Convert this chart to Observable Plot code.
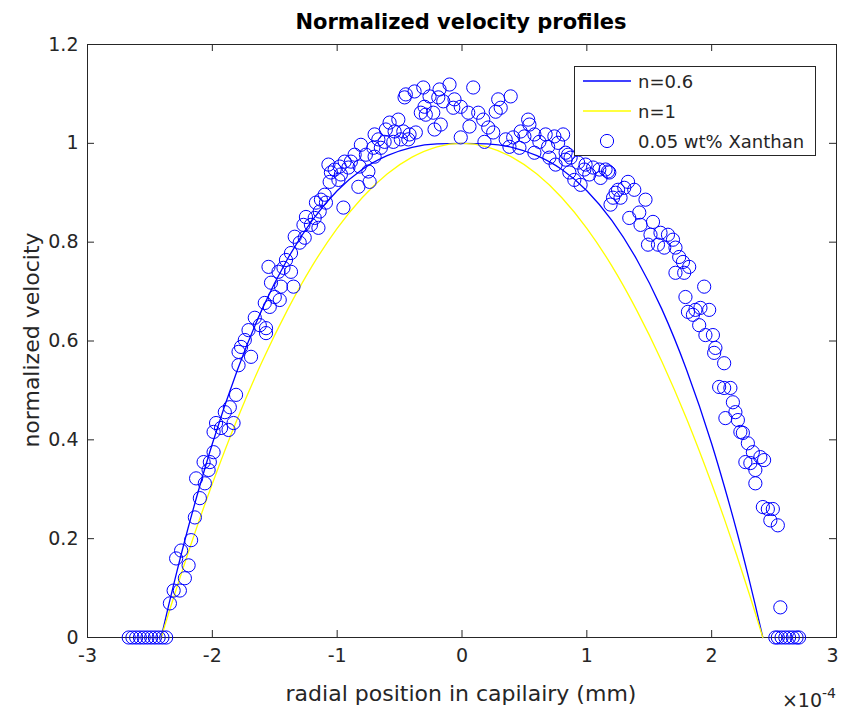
<!DOCTYPE html>
<html><head><meta charset="utf-8">
<script src="https://cdn.jsdelivr.net/npm/d3@7"></script>
<script src="https://cdn.jsdelivr.net/npm/@observablehq/plot@0.6"></script>
<style>body{margin:0;background:#fff}</style>
</head><body><div id="chart"></div>
<script>
// ---- data (x in units of 1e-4 mm) ----
const xTicks = [-3, -2, -1, 0, 1, 2, 3];
const yTicks = [0, 0.2, 0.4, 0.6, 0.8, 1, 1.2];

const curveX   = [-2.41,-2.35,-2.3,-2.2,-2.1,-2.0,-1.8,-1.6,-1.4,-1.2,-1.0,-0.8,-0.6,-0.4,-0.2,0,0.2,0.4,0.6,0.8,1.0,1.2,1.4,1.6,1.8,2.0,2.1,2.2,2.3,2.35,2.41];
const curveN06 = [0,0.065,0.117,0.216,0.307,0.392,0.541,0.665,0.765,0.844,0.904,0.947,0.975,0.992,0.999,1,0.999,0.992,0.975,0.947,0.904,0.844,0.765,0.665,0.541,0.392,0.307,0.216,0.117,0.065,0];
const curveN1  = [0,0.049,0.089,0.167,0.241,0.311,0.442,0.559,0.662,0.752,0.828,0.890,0.938,0.972,0.993,1,0.993,0.972,0.938,0.890,0.828,0.752,0.662,0.559,0.442,0.311,0.241,0.167,0.089,0.049,0];

const xanthanX = [
 -2.67,-2.64,-2.61,-2.58,-2.55,-2.52,-2.49,-2.46,-2.43,-2.40,-2.37,
 -1.99,-2.07,-2.02,-2.03,-2.13,-2.06,-2.10,-2.14,-2.17,-2.25,-2.29,-2.19,-2.22,-2.31,-2.26,-2.34,
 -1.37,-1.41,-1.43,-1.55,-1.47,-1.37,-1.53,-1.45,-1.35,-1.50,-1.46,-1.58,-1.54,-1.66,-1.62,-1.57,-1.71,-1.57,-1.74,-1.77,-1.79,-1.69,-1.79,-1.81,-1.86,-1.90,-1.83,-1.97,-1.93,-1.99,-1.87,
 -0.45,-0.38,-0.31,-0.26,-0.19,-0.46,-0.33,-0.29,-0.23,-0.22,-0.37,-0.51,-0.58,-0.61,-0.54,-0.47,-0.42,-0.70,-0.67,-0.62,-0.55,-0.49,-0.43,-0.81,-0.71,-0.77,-0.65,-0.70,-0.86,-0.89,-0.94,-0.98,-0.91,-0.82,-1.07,-1.02,-1.05,-0.97,-0.99,-1.06,-0.83,-0.75,-0.74,-0.95,-1.10,-1.13,-1.17,-1.09,-1.14,-1.25,-1.18,-1.21,-1.15,-1.27,-1.34,-1.26,-1.30,
 -0.10,0.09,-0.06,-0.15,-0.18,-0.30,-0.07,-0.01,0.05,0.13,0.17,-0.17,0.06,0.21,0.25,-0.01,0.18,0.29,0.39,0.31,0.27,0.53,0.54,0.35,0.41,0.38,0.46,0.50,0.58,0.47,0.58,0.62,0.69,0.67,0.74,0.81,0.77,0.70,0.75,0.85,0.83,0.98,1.17,1.25,
 0.83,0.87,0.93,0.99,1.05,1.10,1.15,1.18,1.11,0.90,0.95,1.02,0.86,1.33,1.30,1.38,1.23,1.21,1.27,1.19,1.47,1.42,1.34,1.43,1.53,1.51,1.59,1.65,1.49,1.57,1.62,1.69,1.71,1.74,1.77,1.82,1.71,1.78,1.94,1.79,
 1.81,1.87,1.91,1.98,1.85,1.90,1.95,2.01,2.03,2.02,2.10,2.06,2.15,2.10,2.17,2.19,2.11,2.21,2.23,2.25,2.29,2.33,2.39,2.42,2.27,2.31,2.35,2.35,
 2.41,2.45,2.49,2.47,2.53,2.55,
 2.51,2.53,2.56,2.59,2.62,2.65,2.68,2.70
];
const xanthanY = [
 0,0,0,0,0,0,0,0,0,0,0,
 0.375,0.355,0.355,0.339,0.322,0.312,0.282,0.243,0.197,0.176,0.160,0.146,0.120,0.095,0.095,0.069,
 0.778,0.764,0.748,0.750,0.740,0.740,0.718,0.710,0.710,0.689,0.683,0.677,0.669,0.647,0.632,0.626,0.622,0.616,0.602,0.588,0.578,0.568,0.551,0.491,0.466,0.456,0.434,0.434,0.424,0.416,0.420,
 1.099,1.105,1.113,1.095,1.093,1.093,1.062,1.058,1.062,1.028,1.022,1.048,1.042,1.028,1.024,1.024,1.018,1.018,1.008,1.003,1.003,1.008,1.008,0.997,0.991,0.977,0.991,0.973,0.977,0.963,0.963,0.953,0.951,0.953,0.957,0.947,0.941,0.937,0.926,0.922,0.912,0.943,0.922,0.870,0.896,0.886,0.880,0.880,0.862,0.851,0.849,0.835,0.829,0.835,0.811,0.809,0.799,
 1.119,1.113,1.089,1.085,1.109,1.074,1.072,1.074,1.062,1.062,1.048,1.038,1.034,1.032,1.022,1.012,1.003,1.089,1.095,1.072,1.064,1.048,1.038,1.008,1.012,0.993,0.991,1.014,1.018,1.024,0.981,1.003,0.993,1.018,1.014,1.018,1.001,0.971,0.957,0.977,0.967,0.947,0.943,0.906,
 0.981,0.971,0.961,0.957,0.951,0.947,0.947,0.941,0.930,0.926,0.916,0.937,0.941,0.922,0.910,0.906,0.900,0.890,0.890,0.876,0.886,0.860,0.849,0.835,0.841,0.815,0.819,0.815,0.795,0.795,0.789,0.805,0.789,0.770,0.760,0.750,0.738,0.738,0.710,0.689,
 0.659,0.663,0.667,0.663,0.653,0.632,0.612,0.612,0.586,0.576,0.555,0.507,0.505,0.505,0.476,0.456,0.444,0.440,0.416,0.414,0.393,0.375,0.365,0.359,0.355,0.353,0.339,0.312,
 0.264,0.260,0.260,0.237,0.227,0.061,
 0,0,0,0,0,0,0,0
];

const legendLabels = ["n=0.6", "n=1", "0.05 wt% Xanthan"];
const titleText = "Normalized velocity profiles";
const xLabel = "radial position in capilairy (mm)";
const yLabel = "normalized velocity";

// ---- build tables ----
const n06 = curveX.map((x, i) => ({x, y: curveN06[i]}));
const n1  = curveX.map((x, i) => ({x, y: curveN1[i]}));
const pts = xanthanX.map((x, i) => ({x, y: xanthanY[i]}));

const W = 841, H = 716, mL = 87, mR = 5, mT = 44, mB = 79;
const fw = W - mL - mR, fh = H - mT - mB;
const ink = "#262626";
const BLUE = "#0000ff", YEL = "#ffff00";
const FONT = "DejaVu Sans";

const chart = Plot.plot({
  width: W, height: H,
  marginLeft: mL, marginRight: mR, marginTop: mT, marginBottom: mB,
  style: {fontFamily: FONT, fontSize: "19px", color: ink, background: "white"},
  x: {domain: [-3, 3]},
  y: {domain: [0, 1.2]},
  marks: [
    Plot.frame({stroke: ink, strokeWidth: 1}),
    Plot.tickX(xTicks, {x: d => d, insetTop: fh - 7, stroke: ink}),
    Plot.tickX(xTicks, {x: d => d, insetBottom: fh - 7, stroke: ink}),
    Plot.tickY(yTicks, {y: d => d, insetRight: fw - 7, stroke: ink}),
    Plot.tickY(yTicks, {y: d => d, insetLeft: fw - 7, stroke: ink}),
    Plot.axisX({ticks: xTicks.slice(0, -1), tickSize: 0, tickPadding: 11, tickFormat: d => String(d), label: null, fill: ink}),
    Plot.axisX({ticks: xTicks.slice(-1), tickSize: 0, tickPadding: 11, tickFormat: d => String(d), label: null, fill: ink, dx: -4}),
    Plot.axisY({ticks: yTicks, tickSize: 0, tickPadding: 9, tickFormat: d => String(d), label: null, fill: ink}),
    Plot.line(n06, {x: "x", y: "y", stroke: BLUE, strokeWidth: 1.3, curve: "monotone-x"}),
    Plot.line(n1, {x: "x", y: "y", stroke: YEL, strokeWidth: 1.3, curve: "monotone-x"}),
    Plot.dot(pts, {x: "x", y: "y", r: 6.6, stroke: BLUE, fill: "none", strokeWidth: 1})
  ]
});

const svg = d3.select(chart);
svg.append("text").attr("x", 461).attr("y", 22).attr("text-anchor", "middle")
  .attr("dominant-baseline", "central").attr("font-family", FONT).attr("font-weight", "bold")
  .attr("font-size", 21).attr("fill", "#000").text(titleText);
svg.append("text").attr("x", 461).attr("y", 693).attr("text-anchor", "middle")
  .attr("dominant-baseline", "central").attr("font-family", FONT)
  .attr("font-size", 22).attr("fill", ink).text(xLabel);
svg.append("text").attr("transform", "translate(31,340) rotate(-90)").attr("text-anchor", "middle")
  .attr("dominant-baseline", "central").attr("font-family", FONT)
  .attr("font-size", 22).attr("fill", ink).text(yLabel);
const exp = svg.append("text").attr("x", 836).attr("y", 707).attr("text-anchor", "end")
  .attr("font-family", FONT).attr("font-size", 19).attr("fill", ink);
exp.append("tspan").text("\u00d710");
exp.append("tspan").attr("dy", -9).attr("font-size", 14).text("-4");

// legend
const lg = svg.append("g");
lg.append("rect").attr("x", 574.5).attr("y", 66.5).attr("width", 241).attr("height", 89)
  .attr("fill", "white").attr("stroke", ink).attr("stroke-width", 1);
const rows = [81, 111, 141];
lg.append("line").attr("x1", 583).attr("x2", 631).attr("y1", rows[0]).attr("y2", rows[0]).attr("stroke", BLUE).attr("stroke-width", 1.3);
lg.append("line").attr("x1", 583).attr("x2", 631).attr("y1", rows[1]).attr("y2", rows[1]).attr("stroke", YEL).attr("stroke-width", 1.3);
lg.append("circle").attr("cx", 607).attr("cy", rows[2]).attr("r", 6.6).attr("fill", "none").attr("stroke", BLUE);
legendLabels.forEach((t, i) => {
  lg.append("text").attr("x", 638).attr("y", rows[i]).attr("dominant-baseline", "central")
    .attr("text-anchor", "start")
    .attr("font-family", FONT).attr("font-size", 18).attr("fill", ink).text(t);
});

document.getElementById("chart").appendChild(chart);
</script></body></html>
